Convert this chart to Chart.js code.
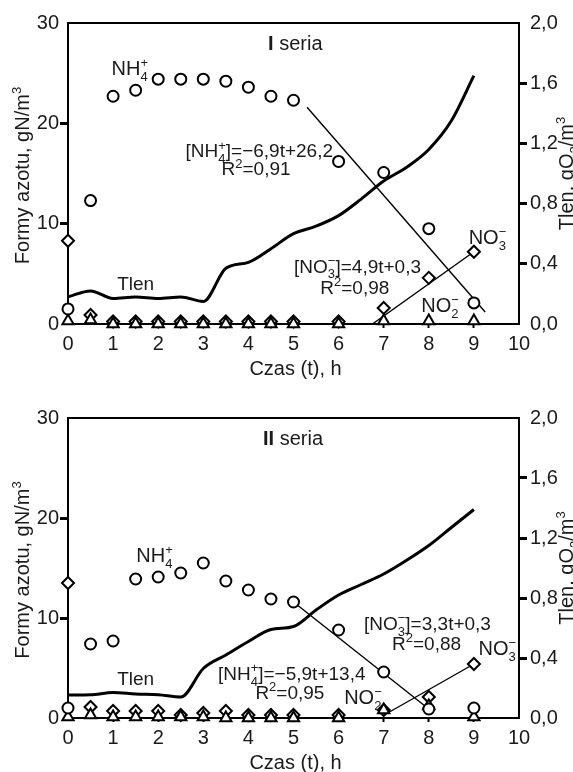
<!DOCTYPE html>
<html>
<head>
<meta charset="utf-8">
<script src="https://cdn.jsdelivr.net/npm/chart.js@4.4.1/dist/chart.umd.min.js"></script>
<style>
  html, body { margin: 0; padding: 0; background: #fff; }
  #wrap { position: relative; width: 573px; height: 772px; overflow: hidden; }
  canvas { position: absolute; left: 0; }
</style>
</head>
<body>
<div id="wrap">
  <canvas id="c1" width="573" height="386" style="top:0"></canvas>
  <canvas id="c2" width="573" height="386" style="top:386px"></canvas>
</div>
<script>
// --- DANE --- //
const hours = [0, 0.5, 1, 1.5, 2, 2.5, 3, 3.5, 4, 4.5, 5, 6, 7, 8, 9];
const oxyHours = [0, 0.5, 1, 1.5, 2, 2.5, 3, 3.5, 4, 4.5, 5, 5.5, 6, 6.5, 7, 7.5, 8, 8.5, 9];

// seria I
const nh4_1 = [1.5, 12.3, 22.7, 23.3, 24.4, 24.4, 24.4, 24.2, 23.6, 22.7, 22.3, 16.2, 15.1, 9.5, 2.1];
const no3_1 = [8.3, 0.9, 0.25, 0.25, 0.25, 0.25, 0.25, 0.25, 0.25, 0.25, 0.25, 0.25, 1.6, 4.6, 7.2];
const no2_1 = [0.3, 0.4, 0, 0, 0, 0, 0, 0, 0, 0, 0, 0, 0.3, 0.3, 0.3];
const tlen_1 = [0.18, 0.22, 0.17, 0.18, 0.17, 0.18, 0.15, 0.37, 0.41, 0.5, 0.6, 0.65, 0.72, 0.83, 0.95, 1.04, 1.16, 1.35, 1.65];
const nh4Fit_1 = { t: [5.3, 9.25], v: [21.6, 1.2] };
const no3Fit_1 = { t: [6.75, 9], v: [0, 7.2] };

// seria II
const nh4_2 = [1.0, 7.4, 7.7, 13.9, 14.1, 14.5, 15.5, 13.7, 12.8, 11.9, 11.6, 8.8, 4.6, 0.9, 1.0];
const no3_2 = [13.5, 1.1, 0.7, 0.7, 0.7, 0.3, 0.5, 0.7, 0.3, 0.3, 0.3, 0.3, 0.8, 2.1, 5.4];
const no2_2 = [0.1, 0.3, 0.1, 0.1, 0.1, 0.1, 0.1, 0, 0, 0, 0, 0, 0.8, 1.2, 0.1];
const tlen_2 = [0.153, 0.155, 0.17, 0.16, 0.155, 0.14, 0.33, 0.42, 0.51, 0.59, 0.61, 0.72, 0.82, 0.89, 0.96, 1.05, 1.15, 1.27, 1.39];
const nh4Fit_2 = { t: [5, 8], v: [11.6, 0.9] };
const no3Fit_2 = { t: [7.05, 9], v: [0.4, 5.4] };

// opisy (t, wartość na osi lewej)
const notes_1 = [
  { text: '*{I} seria', t: 5.04, v: 28.0, size: 20 },
  { text: 'NH_{4}^{+}', t: 1.37, v: 25.5, size: 20 },
  { text: '[NH_{4}^{+}]=−6,9t+26,2', t: 4.24, v: 17.3, size: 19 },
  { text: 'R^{2}=0,91', t: 4.17, v: 15.5, size: 19 },
  { text: 'Tlen', t: 1.5, v: 4.1, size: 19 },
  { text: '[NO_{3}^{−}]=4,9t+0,3', t: 6.42, v: 5.8, size: 19 },
  { text: 'R^{2}=0,98', t: 6.36, v: 3.7, size: 19 },
  { text: 'NO_{3}^{−}', t: 9.3, v: 8.7, size: 20 },
  { text: 'NO_{2}^{−}', t: 8.25, v: 1.9, size: 20 }
];
const notes_2 = [
  { text: '*{II} seria', t: 4.99, v: 28.0, size: 20 },
  { text: 'NH_{4}^{+}', t: 1.92, v: 16.3, size: 20 },
  { text: 'Tlen', t: 1.5, v: 4.0, size: 19 },
  { text: '[NH_{4}^{+}]=−5,9t+13,4', t: 4.96, v: 4.5, size: 19 },
  { text: 'R^{2}=0,95', t: 4.92, v: 2.6, size: 19 },
  { text: '[NO_{3}^{−}]=3,3t+0,3', t: 7.97, v: 9.5, size: 19 },
  { text: 'R^{2}=0,88', t: 7.95, v: 7.5, size: 19 },
  { text: 'NO_{3}^{−}', t: 9.52, v: 7.0, size: 20 },
  { text: 'NO_{2}^{−}', t: 6.54, v: 2.1, size: 20 }
];

const FONT = '"Liberation Sans", Arial, sans-serif';
const INK = '#1a1a1a';

// --- TEKST Z INDEKSAMI --- //
function parseRich(str) {
  const out = [];
  const re = /([_^*])\{([^}]*)\}|([^_^*]+)/g;
  let m;
  while ((m = re.exec(str))) {
    if (m[3]) out.push({ t: m[3], k: 'n' });
    else out.push({ t: m[2], k: m[1] === '_' ? 'sub' : m[1] === '^' ? 'sup' : 'b' });
  }
  return out;
}

function layoutRich(ctx, str, size) {
  let x = 0, prevSub = null;
  const items = [];
  for (const p of parseRich(str)) {
    const small = p.k === 'sub' || p.k === 'sup';
    const fs = small ? Math.round(size * 0.66) : size;
    const font = (p.k === 'b' ? 'bold ' : '') + fs + 'px ' + FONT;
    ctx.font = font;
    const w = ctx.measureText(p.t).width;
    const dy = p.k === 'sub' ? size * 0.3 : p.k === 'sup' ? -size * 0.4 : 0;
    let px = x;
    if (p.k === 'sup' && prevSub) {
      px = prevSub.x;
      x = Math.max(x, px + w);
    } else {
      x += w;
    }
    const item = { t: p.t, font, x: px, dy };
    items.push(item);
    prevSub = p.k === 'sub' ? item : null;
  }
  return { items, width: x };
}

function drawRich(ctx, str, x, y, size, rot) {
  const lay = layoutRich(ctx, str, size);
  ctx.save();
  ctx.translate(x, y);
  if (rot) ctx.rotate(rot);
  ctx.fillStyle = INK;
  ctx.textBaseline = 'alphabetic';
  ctx.textAlign = 'left';
  for (const it of lay.items) {
    ctx.font = it.font;
    ctx.fillText(it.t, it.x - lay.width / 2, it.dy);
  }
  ctx.restore();
}

// --- WTYCZKA: ramka, tytuły osi, opisy --- //
const decor = {
  id: 'decor',
  beforeDatasetsDraw(chart) {
    const a = chart.chartArea, ctx = chart.ctx;
    ctx.save();
    ctx.strokeStyle = '#000';
    ctx.lineWidth = 2;
    ctx.beginPath();
    ctx.moveTo(a.left, a.top);
    ctx.lineTo(a.right, a.top);
    ctx.stroke();
    ctx.restore();
  },
  afterDraw(chart, args, opts) {
    const a = chart.chartArea, ctx = chart.ctx;
    const sx = chart.scales.x, sy = chart.scales.y;
    const cy = (a.top + a.bottom) / 2;
    drawRich(ctx, 'Formy azotu, gN/m^{3}', 29, cy + 2, 20, -Math.PI / 2);
    drawRich(ctx, 'Tlen, gO_{2}/m^{3}', 573, cy, 20, -Math.PI / 2);
    drawRich(ctx, 'Czas (t), h', (a.left + a.right) / 2 + 2, a.bottom + 51, 20, 0);
    for (const n of opts.notes) {
      const px = sx.getPixelForValue(n.t);
      const py = sy.getPixelForValue(n.v) + n.size * 0.36;
      drawRich(ctx, n.text, px, py, n.size, 0);
    }
  }
};

function pts(xs, ys) {
  return xs.map((x, i) => ({ x, y: ys[i] }));
}

function makeChart(id, d) {
  const ctx = document.getElementById(id).getContext('2d');
  const marker = { showLine: false, borderColor: '#000', backgroundColor: '#fff', borderWidth: 2, clip: false };
  return new Chart(ctx, {
    type: 'scatter',
    data: {
      datasets: [
        Object.assign({ label: 'NH4', data: pts(hours, d.nh4), pointStyle: 'circle', pointRadius: 5.5, order: 1 }, marker),
        Object.assign({ label: 'NO2', data: pts(hours, d.no2), pointStyle: 'triangle', pointRadius: 6.5, order: 2 }, marker),
        Object.assign({ label: 'NO3', data: pts(hours, d.no3), pointStyle: 'rectRot', pointRadius: 6, order: 3 }, marker),
        { label: 'NH4 fit', data: pts(d.nh4Fit.t, d.nh4Fit.v), showLine: true, borderColor: '#000', borderWidth: 1.4, pointRadius: 0, order: 4 },
        { label: 'NO3 fit', data: pts(d.no3Fit.t, d.no3Fit.v), showLine: true, borderColor: '#000', borderWidth: 1.4, pointRadius: 0, order: 4 },
        { label: 'Tlen', data: pts(oxyHours, d.tlen), yAxisID: 'y2', showLine: true, borderColor: '#000', borderWidth: 3,
          cubicInterpolationMode: 'monotone', pointRadius: 0, order: 5 }
      ]
    },
    options: {
      responsive: false,
      animation: false,
      devicePixelRatio: 1,
      events: [],
      layout: { padding: { top: d.top, left: 0, right: 0, bottom: 0 } },
      plugins: { legend: { display: false }, tooltip: { enabled: false }, decor: { notes: d.notes } },
      scales: {
        x: {
          type: 'linear', min: 0, max: 10,
          afterFit: s => { s.height = d.bottom; },
          ticks: { stepSize: 1, color: INK, font: { family: FONT, size: 20 }, padding: 4, maxRotation: 0 },
          grid: { drawOnChartArea: false, tickLength: 4, tickWidth: 2,
                  tickColor: c => (c.tick && c.tick.value > 0 && c.tick.value < 10) ? '#000' : 'rgba(0,0,0,0)' },
          border: { display: true, color: '#000', width: 2 }
        },
        y: {
          type: 'linear', position: 'left', min: 0, max: 30,
          afterFit: s => { s.width = 68; },
          ticks: { stepSize: 10, color: INK, font: { family: FONT, size: 20 }, padding: 1 },
          grid: { drawOnChartArea: false, tickLength: 8, tickWidth: 3,
                  tickColor: c => (c.tick && c.tick.value > 0 && c.tick.value < 30) ? '#000' : 'rgba(0,0,0,0)' },
          border: { display: true, color: '#000', width: 2 }
        },
        y2: {
          type: 'linear', position: 'right', min: 0, max: 2,
          afterFit: s => { s.width = 54; },
          ticks: { stepSize: 0.4, color: INK, font: { family: FONT, size: 20 }, padding: 3,
                   callback: v => v.toFixed(1).replace('.', ',') },
          grid: { drawOnChartArea: false, tickLength: 8, tickWidth: 3,
                  tickColor: c => (c.tick && c.tick.value > 0.01 && c.tick.value < 1.99) ? '#000' : 'rgba(0,0,0,0)' },
          border: { display: true, color: '#000', width: 2 }
        }
      }
    },
    plugins: [decor]
  });
}

makeChart('c1', { nh4: nh4_1, no3: no3_1, no2: no2_1, tlen: tlen_1, nh4Fit: nh4Fit_1, no3Fit: no3Fit_1,
                  notes: notes_1, top: 23, bottom: 62 });
makeChart('c2', { nh4: nh4_2, no3: no3_2, no2: no2_2, tlen: tlen_2, nh4Fit: nh4Fit_2, no3Fit: no3Fit_2,
                  notes: notes_2, top: 32, bottom: 54 });
</script>
</body>
</html>
